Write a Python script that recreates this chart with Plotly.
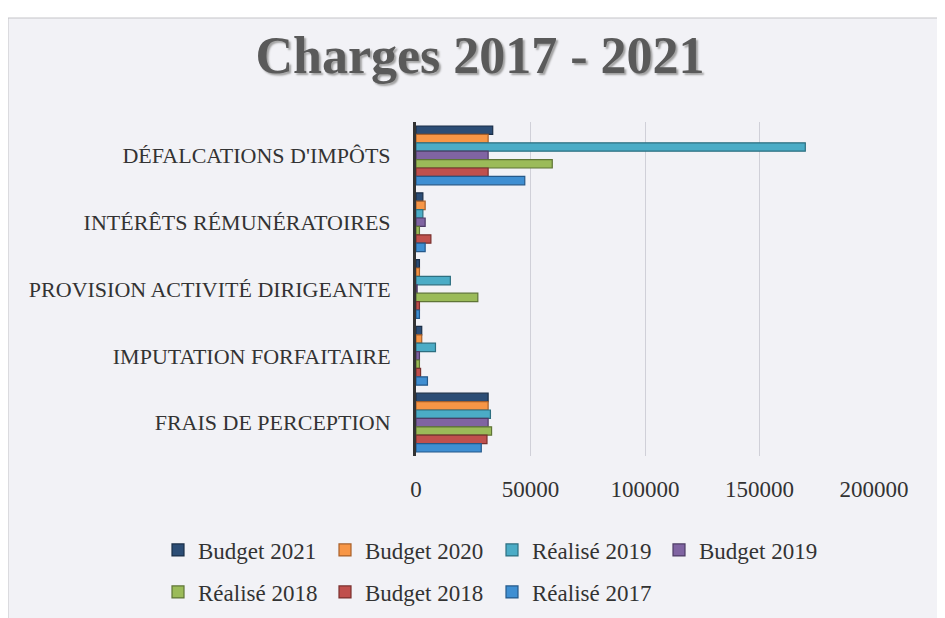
import plotly.graph_objects as go

categories = ["DÉFALCATIONS D'IMPÔTS", "INTÉRÊTS RÉMUNÉRATOIRES", "PROVISION ACTIVITÉ DIRIGEANTE",
              "IMPUTATION FORFAITAIRE", "FRAIS DE PERCEPTION"]

series_names = ["Budget 2021", "Budget 2020", "Réalisé 2019", "Budget 2019",
                "Réalisé 2018", "Budget 2018", "Réalisé 2017"]

budget_2021 = [33500, 3000, 1500, 2500, 31500]
budget_2020 = [31500, 4000, 1500, 2500, 31500]
realise_2019 = [170000, 3000, 15000, 8500, 32500]
budget_2019 = [31500, 4000, 500, 1500, 31500]
realise_2018 = [59500, 1500, 27000, 1500, 33000]
budget_2018 = [31500, 6500, 1500, 2000, 31000]
realise_2017 = [47500, 4000, 1500, 5000, 28500]

x_ticks = [0, 50000, 100000, 150000, 200000]

values = [budget_2021, budget_2020, realise_2019, budget_2019, realise_2018, budget_2018, realise_2017]
colors = ["#2c4d75", "#f79646", "#4bacc6", "#8064a2", "#9bbb59", "#c0504d", "#3f8fd2"]
outlines = ["#1a2f48", "#a8602a", "#2d6f80", "#4e3c66", "#5f7536", "#7a302e", "#25598a"]

fig = go.Figure()
for i, (name, vals) in enumerate(zip(series_names, values)):
    fig.add_trace(go.Bar(
        y=categories, x=vals, name=name, orientation="h",
        marker=dict(color=colors[i], line=dict(color=outlines[i], width=1.2)),
        legend="legend" if i < 4 else "legend2",
    ))

serif = "Liberation Serif"
W, H = 945, 618
L, R, T, B = 408, 79, 114, 170
pw, ph = W - L - R, H - T - B
legend_style = dict(orientation="h", xanchor="left", yanchor="middle",
                    font=dict(family=serif, size=23, color="#333333"), itemwidth=30,
                    entrywidth=122, entrywidthmode="pixels", tracegroupgap=0,
                    bgcolor="rgba(0,0,0,0)")
fig.update_layout(
    width=W, height=H,
    barmode="group", bargap=0.12, bargroupgap=0.0,
    paper_bgcolor="#ffffff", plot_bgcolor="rgba(0,0,0,0)",
    margin=dict(l=L, r=R, t=T, b=B),
    title=dict(text="<b>Charges 2017 - 2021</b>", x=472 / W, xanchor="center", y=0.925, yanchor="middle",
               font=dict(family=serif, size=52, color="#5a5a5a", shadow="2px 2px 2px #a0a0a0")),
    font=dict(family=serif, color="#333333"),
    xaxis=dict(range=[0, 200000], tickvals=x_ticks, ticktext=[str(v) for v in x_ticks],
               showgrid=True, gridcolor="#d0d0d8", gridwidth=1, zeroline=False,
               tickfont=dict(family=serif, size=23, color="#333333"), ticks="", showline=False,
               ticklabelstandoff=17),
    yaxis=dict(autorange="reversed", showline=True, linecolor="#333333", linewidth=3,
               tickfont=dict(family=serif, size=22, color="#333333"), ticks="", ticklabelstandoff=18),
    legend=dict(x=(150 - L) / pw, y=(T + ph - 542) / ph, **legend_style),
    legend2=dict(x=(150 - L) / pw, y=(T + ph - 584) / ph, **legend_style),
)
fig.add_shape(type="rect", xref="paper", yref="paper",
              x0=(0 - L) / pw, x1=(W + 2 - L) / pw, y0=(T + ph - H - 2) / ph, y1=(T + ph - 10) / ph,
              line=dict(color="#c4c4c8", width=1), fillcolor="#f2f2f6", layer="below")

fig.write_html("out.html")
